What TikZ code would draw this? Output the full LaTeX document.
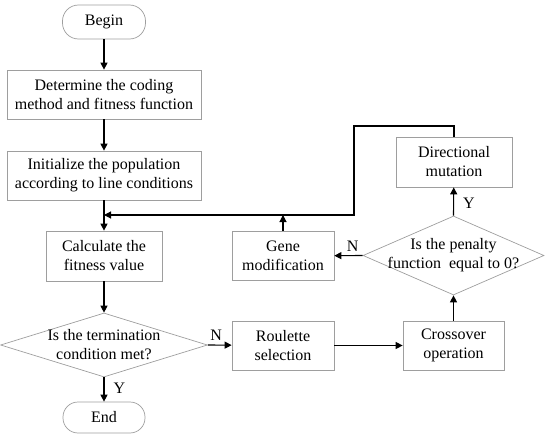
\documentclass[tikz,border=0pt]{standalone}
\usepackage{fontspec}
\setmainfont{Liberation Serif}
\usetikzlibrary{shapes.geometric,arrows.meta}
\begin{document}
\begin{tikzpicture}[x=1pt,y=-1pt,
  box/.style={draw=black!38,line width=0.7pt,rectangle,align=center,inner sep=0pt,font=\fontsize{16}{19}\selectfont},
  term/.style={draw=black!38,line width=0.7pt,rectangle,rounded corners=16pt,align=center,inner sep=0pt,font=\fontsize{16}{19}\selectfont},
  dia/.style={draw=black!38,line width=0.7pt,diamond,inner sep=0pt},
  txt/.style={align=center,inner sep=0pt,font=\fontsize{16}{19}\selectfont},
  arr/.style={line width=1.1pt,-{Triangle[length=7pt,width=7pt]}},
  ln/.style={line width=1.1pt}]
\useasboundingbox (0,0) rectangle (550,439);
\node[term,minimum width=83pt,minimum height=34pt] (begin) at (104,22) {Begin};
\node[box,minimum width=194pt,minimum height=49pt] (det) at (104,94.5) {Determine the coding\\method and fitness function};
\node[box,minimum width=194pt,minimum height=49pt] (init) at (104,175.5) {Initialize the population\\according to line conditions};
\node[box,minimum width=116pt,minimum height=50pt] (calc) at (104,256) {Calculate the\\fitness value};
\node[dia,minimum width=207pt,minimum height=64pt] (termd) at (104,345) {};
\node[txt] (termt) at (104,345) {Is the termination\\condition met?};
\node[term,minimum width=82pt,minimum height=31pt,rounded corners=15pt] (end) at (104,417.5) {End};
\node[box,minimum width=102pt,minimum height=49pt] (roul) at (283,345.5) {Roulette\\selection};
\node[box,minimum width=101pt,minimum height=49pt] (cross) at (453.5,345.5) {Crossover\\operation};
\node[dia,minimum width=181pt,minimum height=79pt] (pend) at (453.5,255.5) {};
\node[txt] (pent) at (453.5,255.5) {Is the penalty\\function~~equal to 0?};
\node[box,minimum width=116pt,minimum height=50pt] (dir) at (454,162) {Directional\\mutation};
\node[box,minimum width=102pt,minimum height=49pt] (gene) at (283,256) {Gene\\modification};
\coordinate (m) at (104,215);
\coordinate (c1) at (454,126);
\coordinate (c2) at (354,126);
\coordinate (c3) at (354,215);
\coordinate (g) at (283,215);
\draw[arr] (begin) -- (det);
\draw[arr] (det) -- (init);
\draw[arr] (init) -- (calc);
\draw[arr] (dir.north) -- (c1) -- (c2) -- (c3) -- (m);
\draw[arr] (gene) -- (g);
\draw[arr] (calc) -- (termd);
\draw[arr] (termd) -- node[txt,right=9pt,pos=0.45] (y1) {Y} (end);
\draw[arr] (termd.east) -- node[txt,above=4pt,pos=0.35] (n1) {N} (roul);
\draw[arr] (roul) -- (cross);
\draw[arr] (cross) -- (pend.south);
\draw[arr] (pend.north) -- node[txt,right=9pt,pos=0.45] (y2) {Y} (dir);
\draw[arr] (pend.west) -- node[txt,above=4pt,pos=0.35] (n2) {N} (gene);
\end{tikzpicture}
\end{document}
